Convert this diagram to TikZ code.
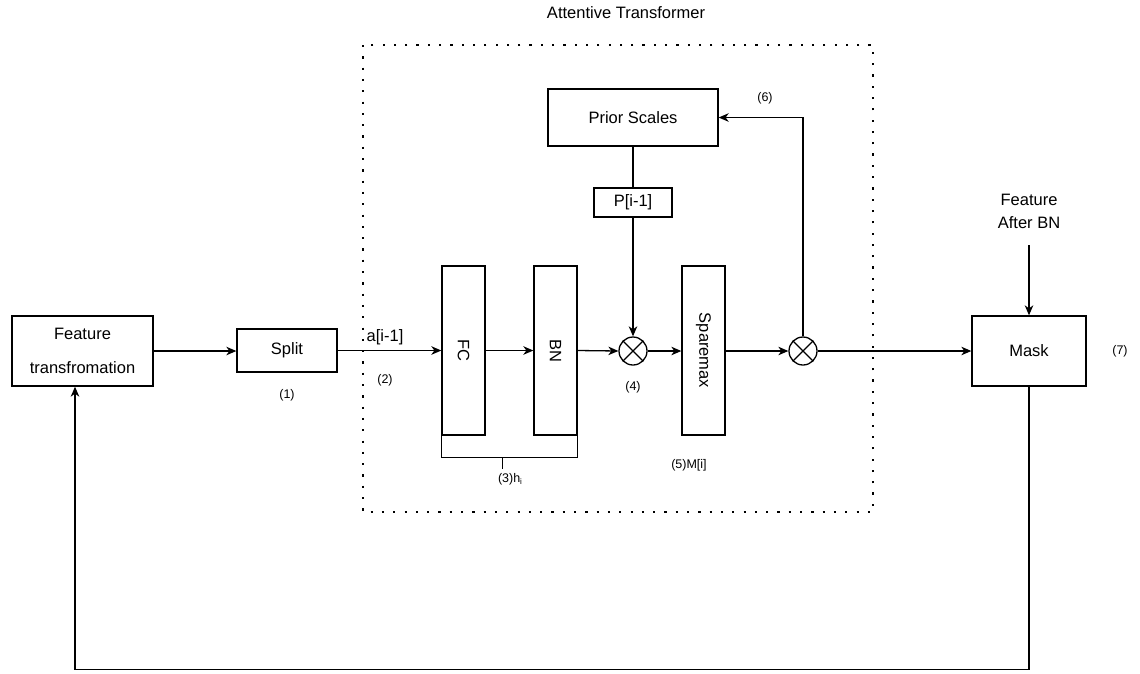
\documentclass[tikz,border=0pt]{standalone}
\usepackage{fontspec}
\setmainfont{Liberation Sans}
\usetikzlibrary{arrows.meta,calc}
\tikzset{
  box/.style={draw, line width=1.3pt, rectangle, inner sep=0pt, font=\fontsize{16.5}{20}\selectfont},
  mult/.style={draw, line width=1.3pt, circle, minimum size=28pt, inner sep=0pt},
  conn/.style={line width=1.3pt},
  arr/.style={line width=1.3pt, -{Stealth[length=10pt,width=8.5pt,inset=3pt]}},
  small/.style={font=\fontsize{12.5}{15}\selectfont, inner sep=0pt},
  big/.style={font=\fontsize{16.5}{20}\selectfont, inner sep=0pt},
  dotbox/.style={line width=2.2pt, dash pattern=on 2.2pt off 9.1pt}
}
\begin{document}
\begin{tikzpicture}[x=1pt,y=-1pt]
\useasboundingbox (0,0) rectangle (1140,673);

% dotted container
\draw[dotbox] (363,45) rectangle (873,512);
\node[big] (title) at (626,13) {Attentive Transformer};

% nodes
\node[box, minimum width=141pt, minimum height=70pt, align=center,
      font=\fontsize{16.5}{34}\selectfont] (ft) at (82.5,351) {Feature\\transfromation};
\node[box, minimum width=100pt, minimum height=43pt] (split) at (287,350.5) {Split};
\node[box, minimum width=43pt, minimum height=169pt] (fc) at (463.5,350.5) {};
\node[big, rotate=-90] at (fc.center) {FC};
\node[box, minimum width=43pt, minimum height=169pt] (bn) at (555.5,350.5) {};
\node[big, rotate=-90] at (bn.center) {BN};
\node[box, minimum width=43pt, minimum height=169pt] (spx) at (703.5,350.5) {};
\node[big, rotate=-90] at (spx.center) {Sparemax};
\node[mult] (m1) at (633,351) {};
\node[mult] (m2) at (803,351) {};
\draw[conn] (m1.north west) -- (m1.south east) (m1.north east) -- (m1.south west);
\draw[conn] (m2.north west) -- (m2.south east) (m2.north east) -- (m2.south west);
\node[box, minimum width=170pt, minimum height=57pt] (prior) at (633,117.5) {Prior Scales};
\node[box, minimum width=78pt, minimum height=29pt] (pbox) at (633,202.5) {P[i-1]};
\node[box, minimum width=114pt, minimum height=70pt] (mask) at (1029,351) {Mask};
\node[big, align=center, font=\fontsize{16.5}{23}\selectfont] (fabtext) at (1029,211) {Feature\\After BN};
\coordinate (fab) at (1029,245);

% labels
\node[small] (l1) at (287,395) {(1)};
\node[small] (l2) at (385,380) {(2)};
\node[big] (la) at (385,337) {a[i-1]};
\node[small] (l4) at (633,387) {(4)};
\node[small] (l5) at (689,465) {(5)M[i]};
\node[small] (l6) at (765,98) {(6)};
\node[small] (l7) at (1120,351) {(7)};
\node[small] (l3) at (510,479) {(3)h\raisebox{-0.35ex}{\fontsize{8}{8}\selectfont i}};

% connectors
\draw[arr] (ft.east) -- (split.west |- ft.east);
\draw[arr] (split.east) -- (fc.west |- split.east);
\draw[arr] (fc.east) -- (bn.west);
\draw[arr] (bn.east) -- (m1.west);
\draw[conn] (prior.south) -- (pbox.north);
\draw[arr] (pbox.south) -- (m1.north);
\draw[arr] (m1.east) -- (spx.west |- m1.east);
\draw[arr] (spx.east |- m2.west) -- (m2.west);
\draw[arr] (m2.north) |- (prior.east);
\draw[arr] (m2.east) -- (mask.west);
\draw[arr] (fab) -- (mask.north);
\draw[arr] (mask.south) -- ++(0,283) -| ([xshift=-7.5pt]ft.south);

% bracket under FC and BN
\draw[conn] (fc.south west) -- ++(0,22) coordinate (bl) -| (bn.south east);
\coordinate (bm) at ($(bl)!0.45!(bl -| bn.south east)$);
\draw[conn] (bm) -- ++(0,11);
\end{tikzpicture}
\end{document}
